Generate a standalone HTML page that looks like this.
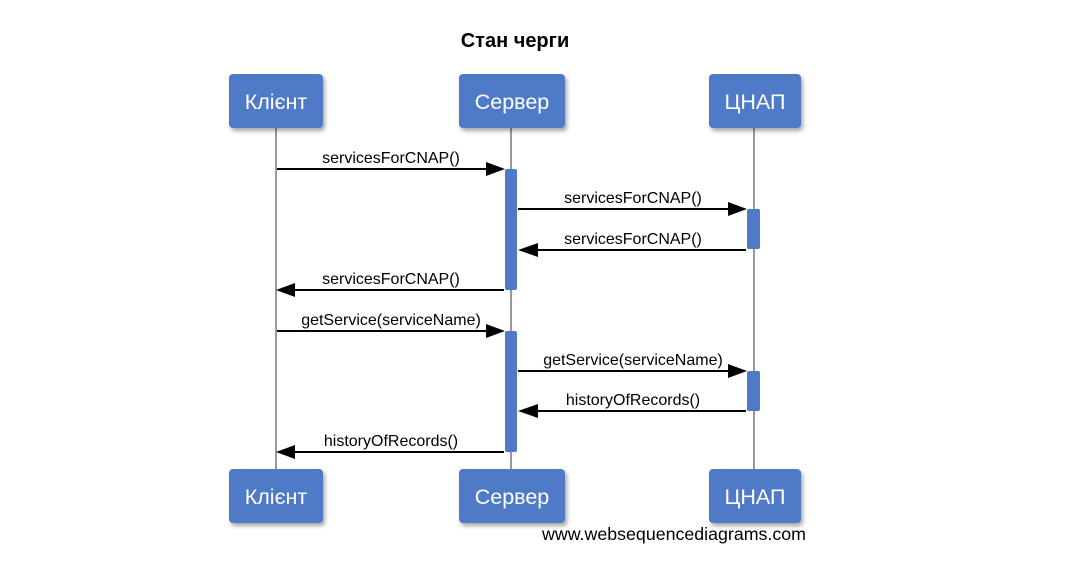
<!DOCTYPE html>
<html><head><meta charset="utf-8"><style>
body{margin:0;background:#fff;width:1087px;height:579px;overflow:hidden}
svg text{font-family:"Liberation Sans",sans-serif}
</style></head><body>
<svg width="1087" height="579" xmlns="http://www.w3.org/2000/svg">
<defs>
<filter id="sh" x="-20%" y="-20%" width="150%" height="150%"><feDropShadow dx="2" dy="3" stdDeviation="2" flood-color="#000" flood-opacity="0.35"/></filter>
</defs>
<text x="515" y="47" font-size="20" font-weight="bold" text-anchor="middle">Стан черги</text>
<g stroke="#999" stroke-width="2">
<line x1="276" y1="128" x2="276" y2="470"/>
<line x1="511" y1="128" x2="511" y2="470"/>
<line x1="754" y1="128" x2="754" y2="470"/>
</g>
<g fill="#4f7ac7" filter="url(#sh)">
<rect x="229" y="74" width="94" height="54" rx="4"/>
<rect x="459" y="74" width="106" height="54" rx="4"/>
<rect x="709" y="74" width="92" height="54" rx="4"/>
<rect x="229" y="469" width="94" height="54" rx="4"/>
<rect x="459" y="469" width="106" height="54" rx="4"/>
<rect x="709" y="469" width="92" height="54" rx="4"/>
</g>
<g fill="#fff" font-size="21.5" text-anchor="middle">
<text x="276" y="109">Клієнт</text><text x="512" y="109">Сервер</text><text x="755" y="109">ЦНАП</text>
<text x="276" y="504">Клієнт</text><text x="512" y="504">Сервер</text><text x="755" y="504">ЦНАП</text>
</g>
<g fill="#4f7ac7">
<rect x="505" y="169" width="12" height="121" rx="2"/>
<rect x="505" y="331" width="12" height="121" rx="2"/>
<rect x="747" y="209" width="13" height="40" rx="2"/>
<rect x="747" y="371" width="13" height="40" rx="2"/>
</g>
<g stroke="#000" stroke-width="2" fill="none">
<path d="M277,169 H487"/><path d="M518,209 H729"/><path d="M746,250 H537"/><path d="M504,290 H294"/>
<path d="M277,331 H487"/><path d="M518,371 H729"/><path d="M746,411 H537"/><path d="M504,452 H294"/>
</g>
<g fill="#000">
<path d="M486,162 L505,169 L486,176Z"/><path d="M728,202 L747,209 L728,216Z"/>
<path d="M538,243 L518,250 L538,257Z"/><path d="M295,283 L276,290 L295,297Z"/>
<path d="M486,324 L505,331 L486,338Z"/><path d="M728,364 L747,371 L728,378Z"/>
<path d="M538,404 L518,411 L538,418Z"/><path d="M295,445 L276,452 L295,459Z"/>
</g>
<g font-size="16" text-anchor="middle" fill="#000">
<text x="391" y="163">servicesForCNAP()</text>
<text x="633" y="203">servicesForCNAP()</text>
<text x="633" y="244">servicesForCNAP()</text>
<text x="391" y="284">servicesForCNAP()</text>
<text x="391" y="325">getService(serviceName)</text>
<text x="633" y="365">getService(serviceName)</text>
<text x="633" y="405">historyOfRecords()</text>
<text x="391" y="446">historyOfRecords()</text>
</g>
<text x="674" y="540" font-size="17.8" text-anchor="middle" textLength="264" lengthAdjust="spacingAndGlyphs">www.websequencediagrams.com</text>
</svg>
</body></html>
